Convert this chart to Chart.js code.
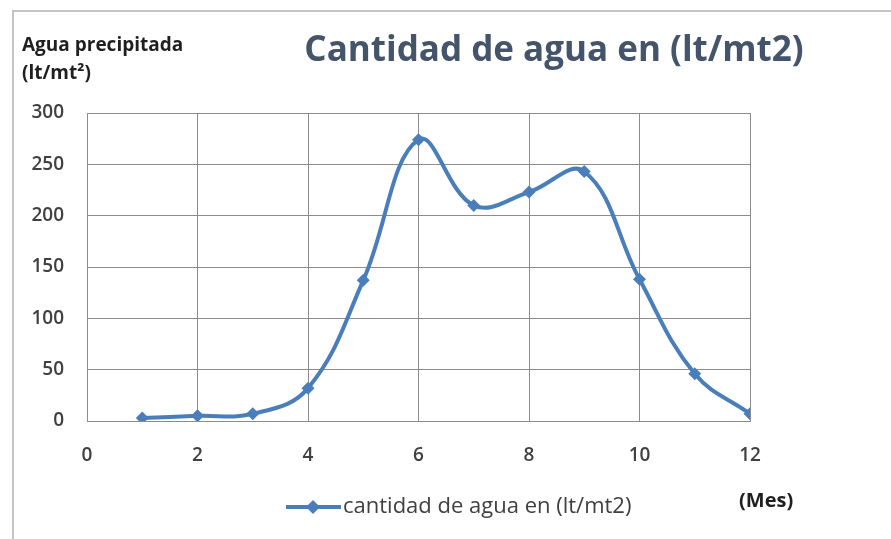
<!DOCTYPE html>
<html>
<head>
<meta charset="utf-8">
<script src="https://cdn.jsdelivr.net/npm/chart.js@4"></script>
<style>
    html, body { margin: 0; padding: 0; background: #ffffff; }
    #wrap { position: relative; width: 891px; height: 539px; }
</style>
</head>
<body>
<div id="wrap"><canvas id="chart" width="891" height="539"></canvas></div>
<script>
// Data
const months = [1, 2, 3, 4, 5, 6, 7, 8, 9, 10, 11, 12];
const rainfall = [3, 5, 7, 32, 137, 274, 210, 223, 243, 138, 46, 7];
const xTicks = [0, 2, 4, 6, 8, 10, 12];
const yTicks = [0, 50, 100, 150, 200, 250, 300];

const chartTitle = 'Cantidad de agua en (lt/mt2)';
const yTitle = ['Agua precipitada', '(lt/mt\u00B2)'];
const xTitle = '(Mes)';
const seriesLabel = 'cantidad de agua en (lt/mt2)';

const COLORS = {
    line: '#4a7ebb',
    grid: '#8c8c8c',
    frame: '#c4c4c4',
    title: '#44546a',
    text: '#404040',
    label: '#1f1f1f'
};
const FONT = '"Open Sans", Lato, sans-serif';

// frame, titles and legend drawn around the plot
const decorations = {
    id: 'decorations',
    beforeDraw(chart) {
        const ctx = chart.ctx;
        ctx.save();
        ctx.fillStyle = '#ffffff';
        ctx.fillRect(0, 0, chart.width, chart.height);
        ctx.strokeStyle = COLORS.frame;
        ctx.lineWidth = 2;
        ctx.strokeRect(13, 11, chart.width + 20, chart.height + 20);
        ctx.restore();
    },
    afterDraw(chart) {
        const ctx = chart.ctx;
        ctx.save();
        ctx.textBaseline = 'middle';

        ctx.fillStyle = COLORS.title;
        ctx.font = 'bold 35px ' + FONT;
        ctx.textAlign = 'center';
        ctx.fillText(chartTitle, 554, 51);

        ctx.fillStyle = COLORS.label;
        ctx.font = 'bold 19px ' + FONT;
        ctx.textAlign = 'left';
        ctx.fillText(yTitle[0], 22, 46);
        ctx.fillText(yTitle[1], 22, 74);
        ctx.font = 'bold 20px ' + FONT;
        ctx.fillText(xTitle, 739, 501);

        // legend: line with diamond marker
        const ly = 507;
        ctx.strokeStyle = COLORS.line;
        ctx.lineWidth = 4;
        ctx.beginPath();
        ctx.moveTo(286, ly);
        ctx.lineTo(341, ly);
        ctx.stroke();
        ctx.fillStyle = COLORS.line;
        ctx.beginPath();
        ctx.moveTo(313, ly - 7);
        ctx.lineTo(320, ly);
        ctx.lineTo(313, ly + 7);
        ctx.lineTo(306, ly);
        ctx.closePath();
        ctx.fill();

        ctx.fillStyle = COLORS.text;
        ctx.font = '22px ' + FONT;
        ctx.fillText(seriesLabel, 343, ly);
        ctx.restore();
    }
};

const data = {
    datasets: [{
        label: seriesLabel,
        data: months.map((m, i) => ({ x: m, y: rainfall[i] })),
        borderColor: COLORS.line,
        backgroundColor: COLORS.line,
        borderWidth: 4,
        tension: 0.4,
        pointStyle: 'rectRot',
        pointRadius: 6.5,
        pointBorderWidth: 0,
        fill: false
    }]
};

new Chart(document.getElementById('chart'), {
    type: 'line',
    data,
    options: {
        responsive: false,
        animation: false,
        layout: {
            padding: { left: 0, top: 113, right: 141, bottom: 0 }
        },
        plugins: {
            legend: { display: false },
            title: { display: false },
            tooltip: { enabled: false }
        },
        scales: {
            x: {
                type: 'linear',
                min: xTicks[0],
                max: xTicks[xTicks.length - 1],
                afterBuildTicks(scale) {
                    scale.ticks = xTicks.map(v => ({ value: v }));
                },
                afterFit(scale) { scale.height = 118; },
                grid: { color: COLORS.grid, drawTicks: false },
                border: { color: COLORS.grid },
                ticks: {
                    padding: 23,
                    color: COLORS.text,
                    font: { family: FONT, size: 19, weight: '600' }
                }
            },
            y: {
                min: yTicks[0],
                max: yTicks[yTicks.length - 1],
                afterBuildTicks(scale) {
                    scale.ticks = yTicks.map(v => ({ value: v }));
                },
                afterFit(scale) { scale.width = 87; },
                grid: { color: COLORS.grid, drawTicks: false },
                border: { color: COLORS.grid },
                ticks: {
                    padding: 23,
                    color: COLORS.text,
                    font: { family: FONT, size: 19, weight: '600' }
                }
            }
        }
    },
    plugins: [decorations]
});
</script>
</body>
</html>
